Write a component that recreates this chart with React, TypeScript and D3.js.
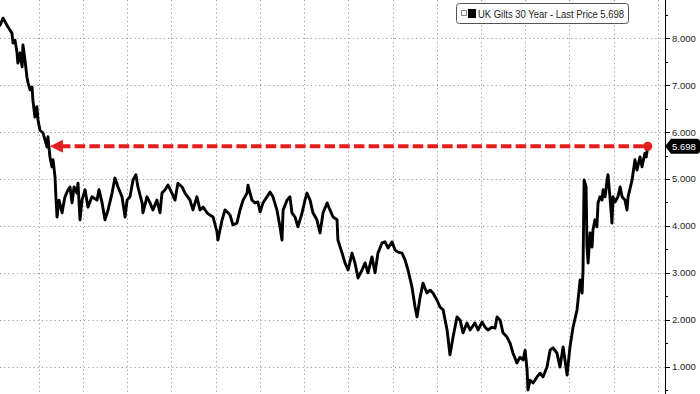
import React from 'react';
import * as d3 from 'd3';

// Decimal-year dates
const dates: number[] = [
  1996.24, 1996.38, 1996.60, 1996.78, 1996.83, 1996.92, 1997.01, 1997.05, 1997.15, 1997.24,
  1997.28, 1997.37, 1997.46, 1997.51, 1997.60, 1997.69, 1997.73, 1997.82, 1997.91, 1997.96,
  1998.05, 1998.19, 1998.28, 1998.37, 1998.41, 1998.50, 1998.59, 1998.64, 1998.73, 1998.77,
  1998.82, 1998.91, 1999.05, 1999.09, 1999.18, 1999.32, 1999.41, 1999.50, 1999.59, 1999.72,
  1999.77, 1999.86, 1999.95, 2000.09, 2000.22, 2000.40, 2000.63, 2000.72, 2000.86, 2000.99,
  2001.13, 2001.31, 2001.44, 2001.58, 2001.76, 2001.90, 2001.99, 2002.12, 2002.26, 2002.39,
  2002.48, 2002.67, 2002.71, 2002.89, 2003.03, 2003.16, 2003.34, 2003.48, 2003.57, 2003.71,
  2003.84, 2004.02, 2004.16, 2004.29, 2004.48, 2004.61, 2004.84, 2004.97, 2005.15, 2005.29,
  2005.43, 2005.61, 2005.74, 2005.88, 2006.06, 2006.10, 2006.29, 2006.42, 2006.56, 2006.65,
  2006.78, 2006.96, 2007.10, 2007.24, 2007.42, 2007.46, 2007.64, 2007.78, 2007.91, 2008.01,
  2008.14, 2008.32, 2008.46, 2008.59, 2008.77, 2008.91, 2009.00, 2009.05, 2009.23, 2009.36,
  2009.45, 2009.59, 2009.72, 2009.91, 2010.04, 2010.13, 2010.27, 2010.40, 2010.58, 2010.72,
  2010.86, 2011.04, 2011.17, 2011.31, 2011.49, 2011.53, 2011.72, 2011.85, 2011.99, 2012.17,
  2012.30, 2012.44, 2012.62, 2012.76, 2012.89, 2013.07, 2013.21, 2013.34, 2013.53, 2013.66,
  2013.80, 2013.98, 2014.11, 2014.25, 2014.43, 2014.57, 2014.70, 2014.88, 2015.02, 2015.11,
  2015.25, 2015.38, 2015.56, 2015.70, 2015.83, 2016.01, 2016.15, 2016.29, 2016.47, 2016.60,
  2016.74, 2016.92, 2017.06, 2017.19, 2017.37, 2017.51, 2017.73, 2017.87, 2018.05, 2018.19,
  2018.32, 2018.50, 2018.64, 2018.73, 2018.87, 2019.00, 2019.18, 2019.32, 2019.45, 2019.63,
  2019.77, 2019.91, 2020.00, 2020.09, 2020.13, 2020.22, 2020.36, 2020.54, 2020.68, 2020.81,
  2020.99, 2021.13, 2021.26, 2021.44, 2021.58, 2021.72, 2021.90, 2022.03, 2022.17, 2022.35,
  2022.49, 2022.58, 2022.62, 2022.67, 2022.76, 2022.80, 2022.85, 2022.94, 2023.03, 2023.07,
  2023.16, 2023.25, 2023.30, 2023.39, 2023.48, 2023.53, 2023.62, 2023.71, 2023.75, 2023.84,
  2023.93, 2023.98, 2024.07, 2024.20, 2024.30, 2024.39, 2024.52, 2024.61, 2024.66, 2024.84,
  2024.97, 2025.06, 2025.20, 2025.29, 2025.42, 2025.48, 2025.55,
];

// UK Gilts 30 Year yield (%)
const yields: number[] = [
  8.28, 8.43, 8.24, 8.11, 7.90, 7.96, 7.69, 7.47, 7.69, 7.39,
  7.86, 7.54, 7.17, 7.05, 6.90, 6.96, 6.68, 6.32, 6.54, 6.26,
  6.04, 5.98, 5.83, 5.68, 5.90, 5.47, 5.26, 5.41, 5.04, 4.62,
  4.19, 4.55, 4.28, 4.40, 4.62, 4.77, 4.83, 4.49, 4.83, 4.70,
  4.91, 4.13, 4.55, 4.77, 4.40, 4.62, 4.55, 4.77, 4.49, 4.13,
  4.34, 4.70, 5.02, 4.83, 4.62, 4.19, 4.55, 4.62, 4.98, 5.09,
  4.83, 4.49, 4.28, 4.62, 4.49, 4.34, 4.55, 4.28, 4.70, 4.77,
  4.87, 4.70, 4.55, 4.91, 4.83, 4.70, 4.55, 4.34, 4.62, 4.34,
  4.40, 4.28, 4.23, 4.19, 3.87, 3.70, 4.13, 4.34, 4.28, 4.23,
  4.02, 4.06, 4.34, 4.55, 4.70, 4.87, 4.55, 4.49, 4.51, 4.30,
  4.49, 4.62, 4.72, 4.62, 4.34, 3.98, 3.70, 4.34, 4.55, 4.62,
  4.28, 4.19, 3.98, 4.28, 4.55, 4.70, 4.55, 4.28, 4.13, 3.85,
  4.28, 4.49, 4.34, 4.19, 4.13, 3.70, 3.42, 3.21, 3.06, 3.42,
  3.21, 2.89, 3.06, 3.21, 3.00, 3.34, 3.00, 3.42, 3.64, 3.66,
  3.53, 3.66, 3.49, 3.44, 3.42, 3.27, 3.06, 2.70, 2.27, 2.06,
  2.48, 2.78, 2.57, 2.63, 2.57, 2.42, 2.27, 2.21, 1.78, 1.25,
  1.63, 2.06, 1.99, 1.72, 1.93, 1.78, 1.93, 1.78, 1.95, 1.84,
  1.78, 1.84, 1.82, 2.06, 1.99, 1.72, 1.63, 1.50, 1.29, 1.08,
  1.20, 1.14, 1.35, 0.93, 0.50, 0.71, 0.65, 0.78, 0.86, 0.78,
  0.99, 1.35, 1.40, 1.29, 0.99, 1.42, 0.82, 1.42, 1.84, 2.21,
  2.85, 2.57, 3.06, 4.98, 4.83, 3.55, 3.21, 3.85, 3.55, 3.91,
  4.13, 3.98, 4.49, 4.62, 4.55, 4.77, 4.62, 4.98, 5.09, 4.62,
  4.06, 4.62, 4.51, 4.62, 4.83, 4.62, 4.55, 4.34, 4.62, 4.98,
  5.41, 5.19, 5.47, 5.26, 5.55, 5.47, 5.698,
];

const gridYears: number[] = [1998, 2000, 2002, 2004, 2006, 2008, 2010, 2012, 2014, 2016, 2018, 2020, 2022, 2024, 2026];
const yTicks: number[] = [1, 2, 3, 4, 5, 6, 7, 8];
const yMinorTicks: number[] = [0.5, 1.5, 2.5, 3.5, 4.5, 5.5, 6.5, 7.5, 8.5];
const lastPrice = 5.698;
const arrowYear = 1998.5;
const legendText = 'UK Gilts 30 Year - Last Price 5.698';

const W = 700;
const H = 394;
const axisX = 665;
const FONT = '"Liberation Sans", Arial, "Noto Sans", sans-serif';

export default function App() {
  const x = d3.scaleLinear().domain([1996.24, 2026.33]).range([0, axisX]);
  const y = d3.scaleLinear().domain([0.4158, 8.8166]).range([H, 0]);

  const pts: [number, number][] = dates.map((d, i) => [d, yields[i]]);
  const line = d3
    .line<[number, number]>()
    .x((d) => x(d[0]))
    .y((d) => y(d[1]));

  const lastX = x(dates[dates.length - 1]);
  const ly = y(lastPrice);
  const ax = x(arrowYear);
  const red = '#e41e1e';

  return (
    <svg
      width={W}
      height={H}
      style={{ position: 'fixed', left: 0, top: 0, background: '#fff' }}
      fontFamily={FONT}
    >
      <rect x={0} y={0} width={W} height={H} fill="#fff" />
      {/* grid */}
      <g stroke="#9a9a9a" strokeWidth={1} strokeDasharray="1.2,3">
        {gridYears.map((g) => (
          <line key={'v' + g} x1={Math.round(x(g)) + 0.5} x2={Math.round(x(g)) + 0.5} y1={0} y2={H} />
        ))}
        {yTicks.map((t) => (
          <line key={'h' + t} x1={0} x2={axisX} y1={Math.round(y(t)) + 0.5} y2={Math.round(y(t)) + 0.5} />
        ))}
      </g>

      {/* series */}
      <path
        d={line(pts) || ''}
        fill="none"
        stroke="#000"
        strokeWidth={2.9}
        strokeLinejoin="round"
        strokeLinecap="round"
      />

      {/* red dashed reference */}
      <line
        x1={ax + 10}
        x2={lastX}
        y1={ly}
        y2={ly}
        stroke={red}
        strokeWidth={4}
        strokeDasharray="10.5,4.2"
      />
      <path d={`M${ax},${ly} L${ax + 13},${ly - 6.5} L${ax + 13},${ly + 6.5} Z`} fill={red} />
      <circle cx={lastX} cy={ly} r={4.5} fill={red} />

      {/* right axis */}
      <line x1={axisX + 0.5} x2={axisX + 0.5} y1={0} y2={H} stroke="#000" strokeWidth={1} />
      {yMinorTicks.map((t) => (
        <line key={'m' + t} x1={axisX} x2={axisX + 3} y1={Math.round(y(t)) + 0.5} y2={Math.round(y(t)) + 0.5} stroke="#000" />
      ))}
      {yTicks.map((t) => (
        <g key={'t' + t}>
          <line x1={axisX} x2={axisX + 5} y1={Math.round(y(t)) + 0.5} y2={Math.round(y(t)) + 0.5} stroke="#000" />
          <text x={axisX + 7} y={y(t) + 3.5} fontSize={9.5} fill="#222">
            {d3.format('.3f')(t)}
          </text>
        </g>
      ))}

      {/* last price tag */}
      <path
        d={`M${axisX},${ly} L${axisX + 6},${ly - 7.5} L${W - 3},${ly - 7.5} Q${W},${ly - 7.5} ${W},${ly - 4} L${W},${ly + 4} Q${W},${ly + 7.5} ${W - 3},${ly + 7.5} L${axisX + 6},${ly + 7.5} Z`}
        fill="#000"
      />
      <text x={axisX + 7} y={ly + 3.5} fontSize={9.5} fill="#fff">
        {d3.format('.3f')(lastPrice)}
      </text>

      {/* legend */}
      <rect x={456.5} y={3.5} width={172} height={20} rx={3} fill="#fff" stroke="#555" />
      <rect x={461.5} y={10.5} width={5} height={5} fill="#fff" stroke="#888" />
      <rect x={468} y={9} width={8} height={9} fill="#000" />
      <text x={478} y={17.5} fontSize={10} fill="#222" textLength={146} lengthAdjust="spacingAndGlyphs">
        {legendText}
      </text>
    </svg>
  );
}
